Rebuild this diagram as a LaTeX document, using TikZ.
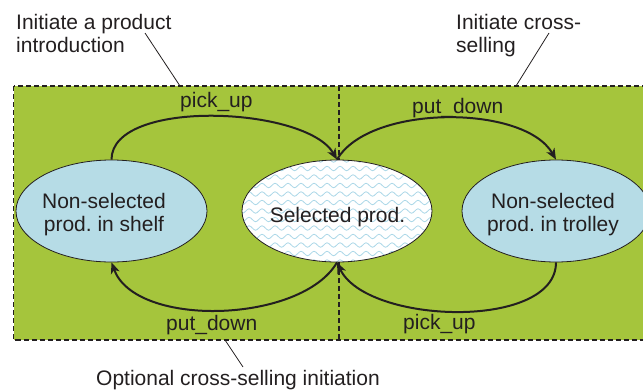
\documentclass[tikz,border=0pt]{standalone}
\usepackage{fontspec}
\setmainfont{Liberation Sans}
\frenchspacing
\usetikzlibrary{shapes.geometric,arrows.meta,decorations.pathmorphing}
\definecolor{bggreen}{RGB}{165,197,60}
\definecolor{ellblue}{RGB}{182,220,230}
\definecolor{wavecol}{RGB}{172,216,232}
\definecolor{txt}{RGB}{35,31,32}
\begin{document}
\begin{tikzpicture}[x=1pt,y=1pt,
  font=\fontsize{21}{23}\selectfont, text=txt,
  state/.style={ellipse, draw=txt, line width=0.8pt, inner sep=0pt,
    minimum width=#1, minimum height=102pt},
  statetext/.style={align=center, inner sep=0pt, anchor=center},
  flow/.style={line width=2pt, draw=txt,
    -{Stealth[length=11pt,width=9pt,inset=3pt]}},
  lbl/.style={anchor=base west, inner sep=0pt},
  note/.style={align=left, anchor=north west, inner sep=0pt},
  pointer/.style={line width=0.8pt, draw=txt},
  frame/.style={draw=txt, line width=1.8pt, dash pattern=on 5pt off 3pt},
  waves/.style={draw=wavecol, line width=0.8pt, decorate,
    decoration={snake, amplitude=2.2pt, segment length=13pt}}]
\useasboundingbox (0,0) rectangle (643,-391);
\clip (0,0) rectangle (643,-391);

% background area
\fill[bggreen] (13.5,-86) rectangle (660,-340);
\draw[frame] (13.5,-86) rectangle (660,-340);
\coordinate (dtop) at (339,-86);
\coordinate (dbot) at (339,-340);
\draw[frame] (dtop) -- (dbot);

% states
\node[state=191pt, fill=ellblue] (L) at (111.5,-211) {};
\node[state=190pt, fill=white,
  path picture={
    \foreach \k in {-7,...,7}
      \draw[waves] ([xshift=-10pt,yshift=\k*8.5pt]path picture bounding box.west)
        -- ([xshift=10pt,yshift=\k*8.5pt]path picture bounding box.east);
  }] (C) at (337,-211) {};
\node[state=188pt, fill=ellblue] (R) at (556,-211) {};
\node[statetext] (Lt) at (104,-215) {Non-selected\\prod. in shelf};
\node[lbl, anchor=base] (Ct) at (337.5,-222) {Selected prod.};
\node[statetext] (Rt) at (553,-215) {Non-selected\\prod. in trolley};

% transitions
\draw[flow] (L.north) to[out=90, in=120, looseness=0.7] (C.north);
\draw[flow] (C.north) to[out=60, in=120, looseness=0.75] (R.north);
\draw[flow] (C.south) to[out=-120, in=-70, looseness=0.8] (L.south);
\draw[flow] (R.south) to[out=-90, in=-65, looseness=0.8] (C.south);

\node[lbl] (l1) at (180,-107) {pick\_up};
\node[lbl] (l2) at (412,-113) {put\_down};
\node[lbl] (l3) at (166,-330) {put\_down};
\node[lbl] (l4) at (403,-329) {pick\_up};

% annotations
\node[note] (n1) at (16,-14) {Initiate a product\\introduction};
\node[note] (n2) at (456,-14) {Initiate cross-\\selling};
\node[lbl] (n3) at (96,-385) {Optional cross-selling initiation};
\coordinate (p1a) at (145,-33);
\coordinate (p1b) at (180,-86);
\coordinate (p2a) at (549,-33);
\coordinate (p2b) at (516,-86);
\coordinate (p3a) at (225,-340);
\coordinate (p3b) at (243,-367);
\draw[pointer] (p1a) -- (p1b);
\draw[pointer] (p2a) -- (p2b);
\draw[pointer] (p3a) -- (p3b);
\end{tikzpicture}
\end{document}
